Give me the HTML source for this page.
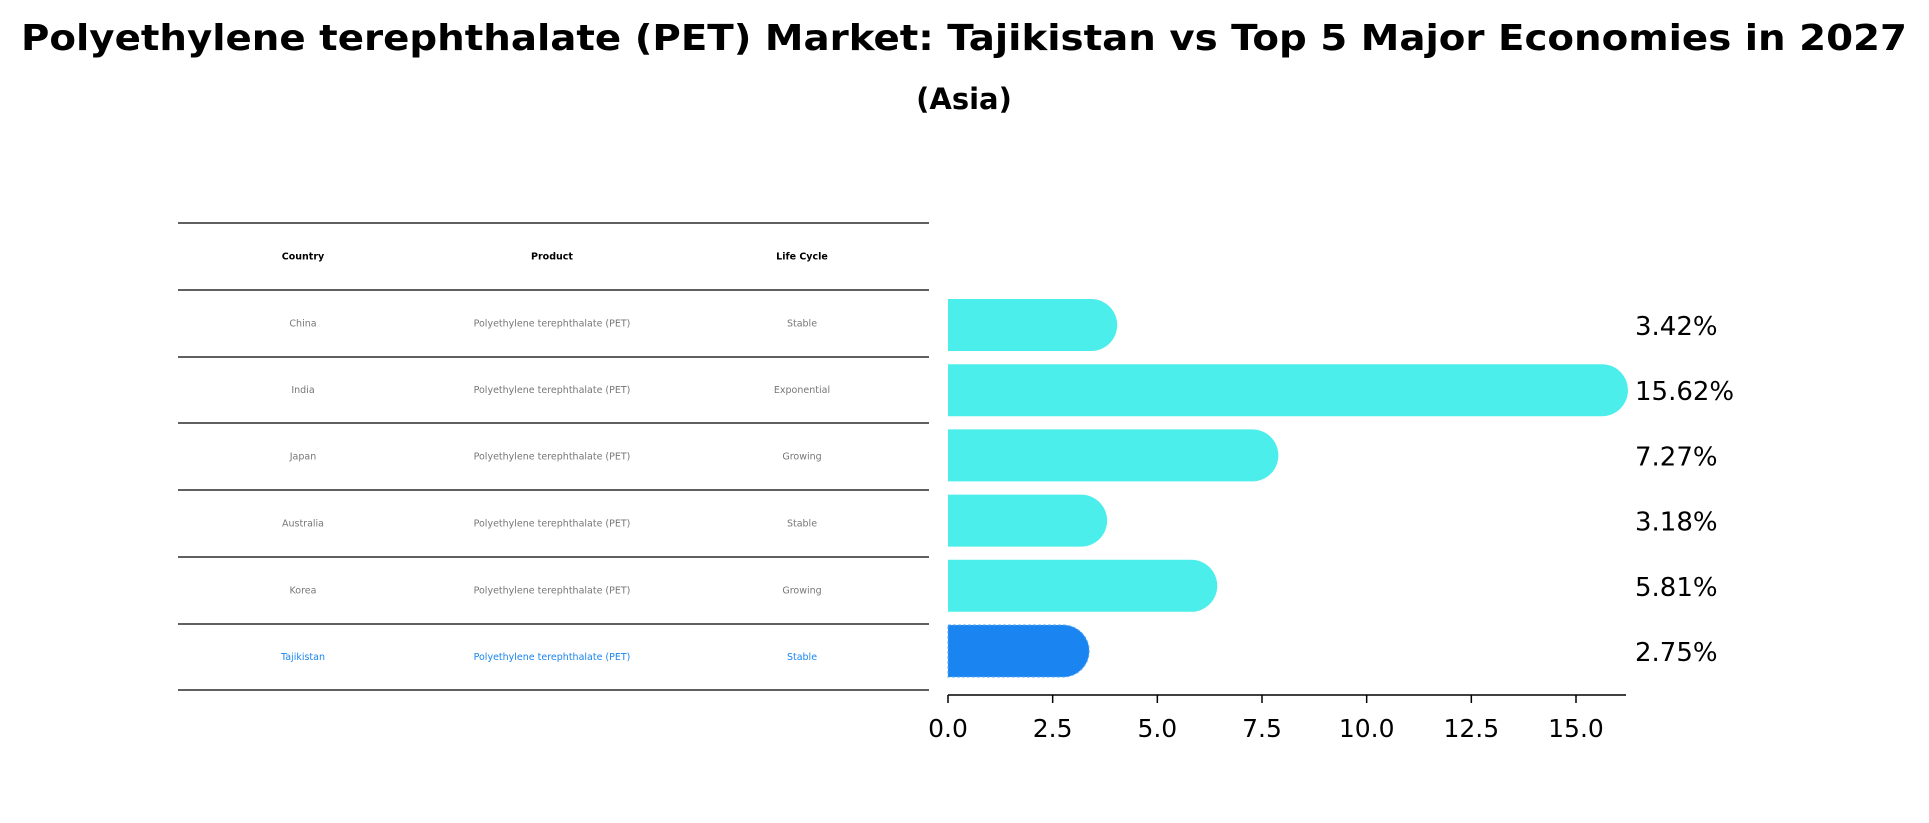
<!DOCTYPE html>
<html><head><meta charset="utf-8"><style>body{margin:0;background:#fff}svg{display:block;font-family:"DejaVu Sans","Liberation Sans",sans-serif}</style></head>
<body>
<svg id="chart" width="1929" height="823" viewBox="0 0 1929 823" xmlns="http://www.w3.org/2000/svg">
<text x="964" y="50" text-anchor="middle" font-size="36" font-weight="bold" textLength="1886" lengthAdjust="spacingAndGlyphs">Polyethylene terephthalate (PET) Market: Tajikistan vs Top 5 Major Economies in 2027</text>
<text x="964" y="109" text-anchor="middle" font-size="29" font-weight="bold">(Asia)</text>
<g id="table"></g>
<g id="bars"></g>
</svg>
<script>
const countries = ["China","India","Japan","Australia","Korea","Tajikistan"];
const products = ["Polyethylene terephthalate (PET)","Polyethylene terephthalate (PET)","Polyethylene terephthalate (PET)","Polyethylene terephthalate (PET)","Polyethylene terephthalate (PET)","Polyethylene terephthalate (PET)"];
const lifeCycles = ["Stable","Exponential","Growing","Stable","Growing","Stable"];
const shares = [3.42,15.62,7.27,3.18,5.81,2.75];
const tickValues = [0,2.5,5,7.5,10,12.5,15];
const tickLabels = ["0.0","2.5","5.0","7.5","10.0","12.5","15.0"];

const NS="http://www.w3.org/2000/svg";
function mk(tag,attrs,parent,txt){const e=document.createElementNS(NS,tag);for(const k in attrs)e.setAttribute(k,attrs[k]);if(txt!==undefined)e.textContent=txt;parent.appendChild(e);return e;}
const table=document.getElementById('table'), bars=document.getElementById('bars');
// table
const lineY=[223,290,357,423,490,557,624,690];
const colX=[303,552,802];
lineY.forEach((y,i)=>{const l=mk('line',{x1:178,x2:929,y1:y,y2:y,stroke:'#000','stroke-width':1.3},table);

});
const hdr=["Country","Product","Life Cycle"];
hdr.forEach((h,i)=>{const t=mk('text',{x:colX[i],y:(lineY[0]+lineY[1])/2+3,'text-anchor':'middle','font-size':9.5,'font-weight':'bold',fill:'#000'},table,h);

});
countries.forEach((c,r)=>{const y=(lineY[r+1]+lineY[r+2])/2+3;const col=c==="Tajikistan"?'#1a85f0':'#777';
[c,products[r],lifeCycles[r]].forEach((v,i)=>{const t=mk('text',{x:colX[i],y:y,'text-anchor':'middle','font-size':9.5,fill:col},table,v);

});});
// bars
const x0=948, pxPer=(1576-948)/15;
const xs=v=>x0+v*pxPer;
const rowY=i=>325+i*65.2;
const h=52;
shares.forEach((v,i)=>{const cy=rowY(i),top=cy-h/2,bot=cy+h/2,xe=xs(v);const taj=countries[i]==="Tajikistan";
const p=mk('path',{d:`M${x0},${top} H${xe} A26 26 0 0 1 ${xe},${bot} H${x0} Z`,fill:taj?'#1a85f0':'#4beeea'},bars);
if(taj){p.setAttribute('stroke','#5aa8f5');p.setAttribute('stroke-dasharray','3 2');p.setAttribute('stroke-width','1');}


const t=mk('text',{x:1635,y:cy+10,'font-size':26,fill:'#000'},bars,v.toFixed(2)+'%');

});
const ax=mk('line',{x1:x0,x2:1626,y1:695,y2:695,stroke:'#000','stroke-width':1.5},bars);


tickValues.forEach((v,i)=>{const x=xs(v);const tk=mk('line',{x1:x,x2:x,y1:695,y2:703,stroke:'#000','stroke-width':1.5},bars);


const t=mk('text',{x:x,y:737,'text-anchor':'middle','font-size':25,fill:'#000'},bars,tickLabels[i]);

});
</script>
</body></html>
